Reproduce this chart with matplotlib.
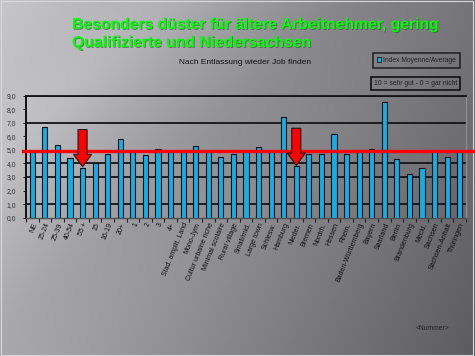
import numpy as np
import matplotlib
matplotlib.use("Agg")
import matplotlib.pyplot as plt
from matplotlib.patches import Polygon, Rectangle
import matplotlib.patheffects as pe

plt.rcParams['font.family'] = ['Liberation Sans', 'DejaVu Sans']

# ---------------- data ----------------
categories = ["NE", "15-24", "25-39", "40-54", "55 +", "15", "16-19", "20+",
              "1", "2", "3", "4+", "Stad. amplit. Land", "Mono-Jym",
              "Cultur urbaine riche", "Minimal scolaire", "Rural village",
              "Small/mid.", "Large town", "Schlesw.", "Hamburg", "Nieder.",
              "Bremen", "Nordrh.", "Hessen", "Rhein.", "Baden-Württemberg",
              "Bayern", "Saarland", "Berlin", "Brandenburg", "Meckl.",
              "Sachsen", "Sachsen-Anhalt", "Thüringen"]
values = [4.9, 6.7, 5.4, 4.4, 3.7, 4.0, 4.7, 5.8, 4.9, 4.6, 5.1, 4.9, 4.9,
          5.3, 4.9, 4.5, 4.7, 4.9, 5.2, 4.9, 7.4, 3.8, 4.7, 4.7, 6.2, 4.7,
          4.9, 5.1, 8.5, 4.3, 3.2, 3.7, 4.9, 4.5, 4.9]
average = 4.9
arrow_targets = ["55 +", "Nieder."]
grid_levels = [1, 3, 4, 7, 9]
ytick_values = list(range(0, 10))
title_lines = ["Besonders düster für ältere Arbeitnehmer, gering",
               "Qualifizierte und Niedersachsen"]
subtitle = "Nach Entlassung wieder Job finden"
legend_label = "Index Moyenne/Average"
scale_note = "10 = sehr gut - 0 = gar nicht"
footer = "<Nummer>"

W, H = 475, 356
fig = plt.figure(figsize=(W / 100, H / 100), dpi=100)

# ---------------- background gradient ----------------
bg = fig.add_axes([0, 0, 1, 1])
yy, xx = np.mgrid[0:H, 0:W]
u = xx / W
v = yy / H
val = 0.78 - 0.32 * u - 0.10 * v
val += 0.03 * np.exp(-((u + 0.8 * v - 0.35) / 0.12) ** 2)
val -= 0.02 * np.exp(-((u + 0.8 * v - 0.75) / 0.15) ** 2)
img = np.dstack([val, val, val + 0.015])
img = np.clip(img, 0, 1)
bg.imshow(img, extent=[0, 1, 0, 1], aspect='auto', zorder=0)
bg.set_xlim(0, 1)
bg.set_ylim(0, 1)
bg.axis('off')
bg.add_patch(Rectangle((0.002, 0.003), 0.994, 0.994, fill=False,
                       edgecolor='#d8d8dc', lw=0.8, transform=bg.transAxes))

# ---------------- chart ----------------
ax = fig.add_axes([26 / W, 1 - 217.7 / H, 440 / W, 122 / H])
ax.patch.set_alpha(0)
x = np.arange(len(categories))

for g in grid_levels:
    ax.axhline(g, color='#141414', lw=1.3, zorder=1)

ax.bar(x, values, width=0.42, color='#12aee8', edgecolor='#111111',
       linewidth=0.8, zorder=3)

ax.set_xlim(-0.5, len(categories) - 0.5)
ax.set_ylim(0, 9)
ax.set_yticks(ytick_values)
ax.set_yticklabels([f"{t:.1f}".replace('.', ',') for t in ytick_values],
                   fontsize=4.9, color='#303030')
ax.tick_params(axis='y', length=2, width=0.8, color='#202020', pad=5)

ax.set_xticks(x)
ax.set_xticklabels(categories, rotation=68, ha='right', va='top',
                   rotation_mode='anchor', fontsize=5.0, color='#111111')
ax.tick_params(axis='x', length=0, pad=3)
ax.set_xticks(np.arange(-0.5, len(categories), 1), minor=True)
ax.tick_params(axis='x', which='minor', length=3, width=0.8, color='#202020')

ax.spines['left'].set_color('#111111')
ax.spines['left'].set_linewidth(1.4)
ax.spines['top'].set_color('#141414')
ax.spines['top'].set_linewidth(1.3)
ax.spines['right'].set_color('#8c8c90')
ax.spines['right'].set_linewidth(1.0)
ax.spines['bottom'].set_color('#505054')
ax.spines['bottom'].set_linewidth(1.0)

# average red line (extends beyond plot area)
ax.axhline(average, xmin=-0.006, xmax=1.03, color='#ff0000', lw=2.4,
           zorder=4, clip_on=False)

# red arrows pointing to the weak groups
for name in arrow_targets:
    i = categories.index(name)
    tip = values[i] + 0.05
    base = tip + 0.92
    top = tip + 2.75
    sw, hw = 0.36, 0.72
    poly = Polygon([(i - sw, top), (i + sw, top), (i + sw, base),
                    (i + hw, base), (i, tip), (i - hw, base), (i - sw, base)],
                   closed=True, facecolor='#ff0000', edgecolor='#1a1a1a',
                   lw=0.8, zorder=6, clip_on=False)
    ax.add_patch(poly)

# ---------------- texts ----------------
green_fx = [pe.withSimplePatchShadow(offset=(0.6, -0.6), shadow_rgbFace='#2a4a2a', alpha=0.6)]
fig.text(72 / W, 1 - 29 / H, title_lines[0], fontsize=11.3, fontweight='bold',
         color='#00ff00', ha='left', va='baseline', path_effects=green_fx)
fig.text(72 / W, 1 - 47 / H, title_lines[1], fontsize=11.3, fontweight='bold',
         color='#00ff00', ha='left', va='baseline', path_effects=green_fx)

fig.text(245 / W, 1 - 62 / H, subtitle, fontsize=6.0, color='#111111',
         ha='center', va='center')

handle = Rectangle((0, 0), 1, 1, facecolor='#12aee8', edgecolor='#111111', lw=0.6)
leg = fig.legend([handle], [legend_label], loc='center',
                 bbox_to_anchor=(416.5 / W, 1 - 60.5 / H),
                 bbox_transform=fig.transFigure, fontsize=4.9,
                 frameon=True, fancybox=False, handlelength=0.7,
                 handleheight=0.7, handletextpad=0.3, borderpad=0.6,
                 borderaxespad=0)
leg.get_frame().set_edgecolor('#111111')
leg.get_frame().set_linewidth(1.2)
leg.get_frame().set_facecolor('none')
for t in leg.get_texts():
    t.set_color('#222222')

fig.text(415.5 / W, 1 - 83.5 / H, scale_note, fontsize=4.9, color='#222222',
         ha='center', va='center',
         bbox=dict(boxstyle='square,pad=0.45', facecolor='none',
                   edgecolor='#111111', lw=1.2))

fig.text(432 / W, 1 - 328 / H, footer, fontsize=4.8, color='#222222',
         ha='center', va='center')

fig.savefig("out.png", dpi=100)
